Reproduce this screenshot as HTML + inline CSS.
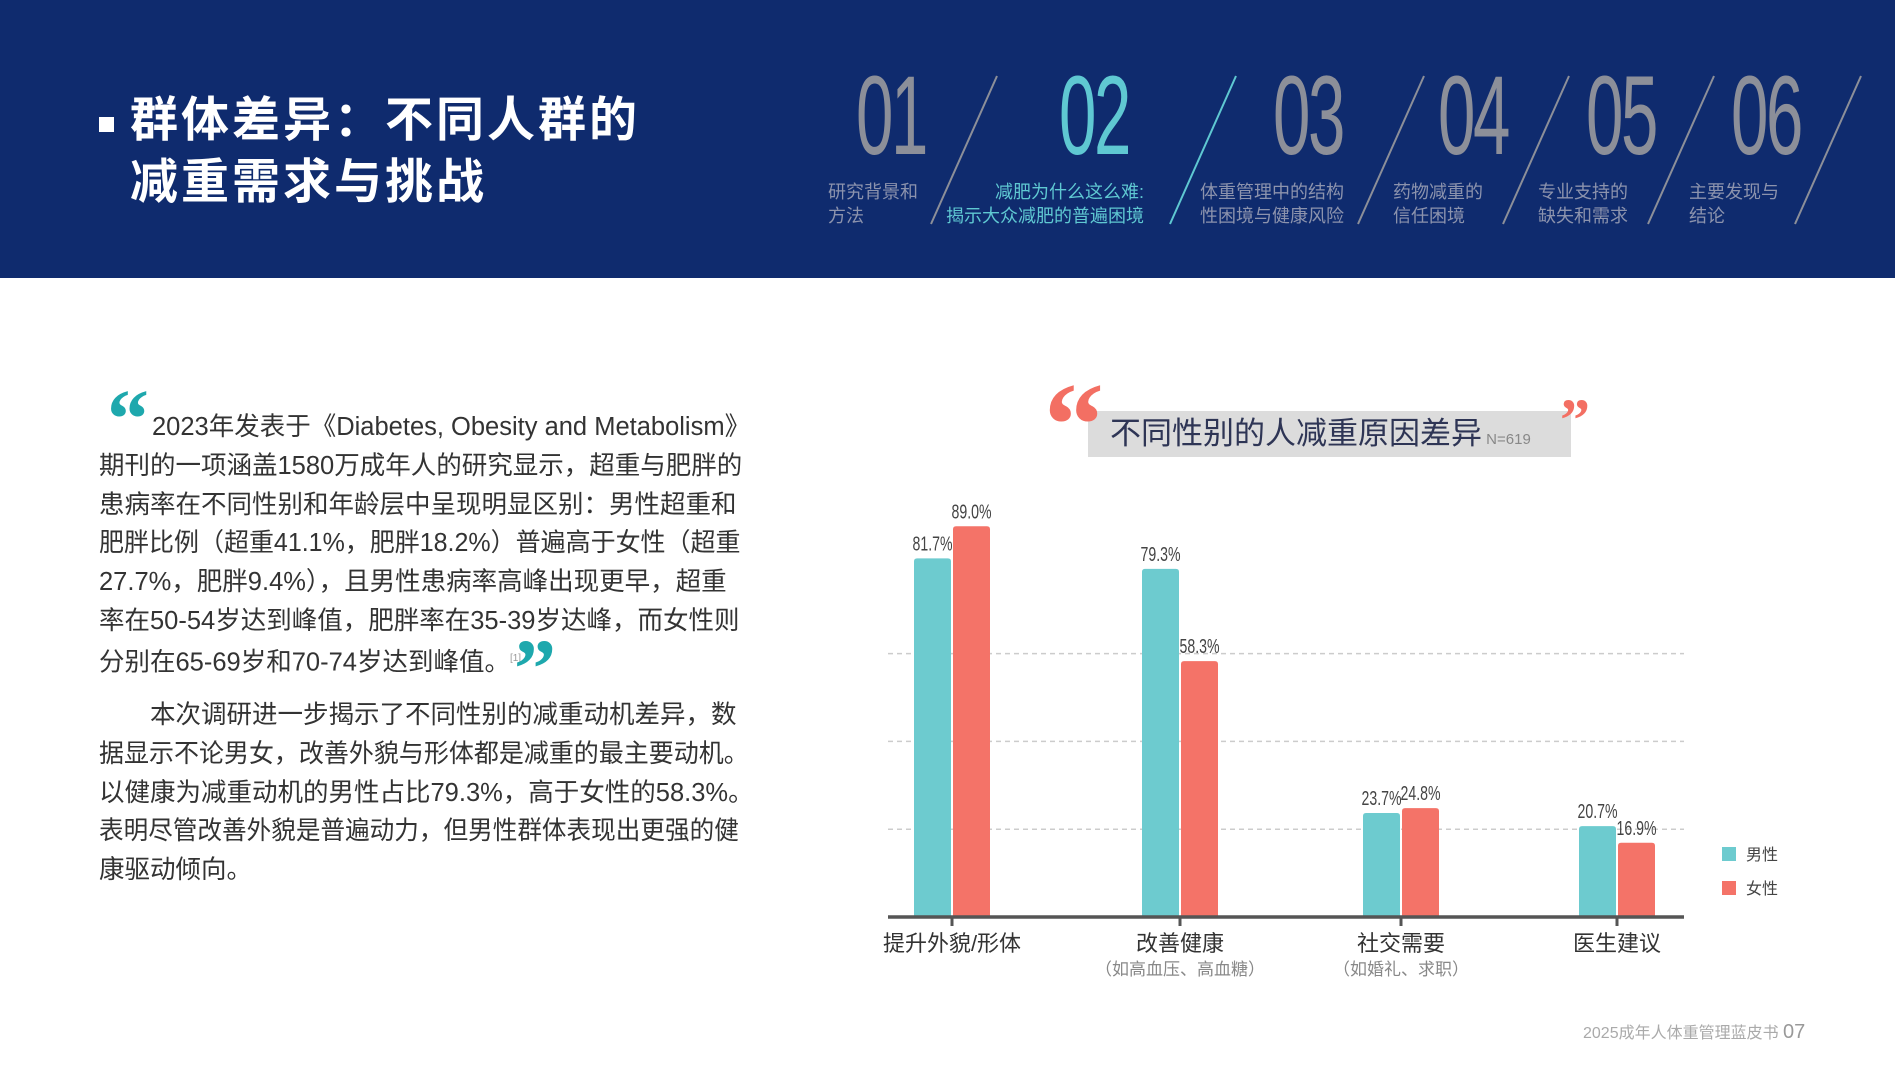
<!DOCTYPE html>
<html><head><meta charset="utf-8">
<style>
*{margin:0;padding:0;box-sizing:border-box}
body{width:1895px;height:1080px;background:#fff;position:relative;overflow:hidden;font-family:"Liberation Sans","Noto Sans CJK SC",sans-serif}
.abs{position:absolute;white-space:nowrap}
#hdr{left:0;top:0;width:1895px;height:278px;background:#0f2b6e}
.num{position:absolute;top:60px;font-size:112px;color:#8c8f99;font-family:"Liberation Sans",sans-serif;transform:scaleX(0.6);transform-origin:left top;line-height:1;letter-spacing:-4px}
.lab{position:absolute;font-size:18px;line-height:24px;color:#8c93ad;white-space:nowrap}
.p{position:absolute;left:99px;font-size:25.5px;color:#333;white-space:nowrap;line-height:38px;transform-origin:left top}
</style></head><body>
<div id="hdr" class="abs">
  <div class="abs" style="left:99px;top:117px;width:15px;height:15px;background:#fff"></div>
  <div class="abs" style="left:130px;top:90px;font-size:48px;letter-spacing:3px;line-height:62px;color:#fff;font-weight:bold">群体差异：不同人群的<br>减重需求与挑战</div>
  <svg class="abs" style="left:0;top:0" width="1895" height="278">
    <g stroke="#8c8f99" stroke-width="2">
      <line x1="997" y1="76" x2="931" y2="224"/>
      <line x1="1424" y1="76" x2="1358" y2="224"/>
      <line x1="1569" y1="76" x2="1503" y2="224"/>
      <line x1="1714" y1="76" x2="1648" y2="224"/>
      <line x1="1861" y1="76" x2="1795" y2="224"/>
    </g>
    <line x1="1236" y1="76" x2="1170" y2="224" stroke="#5fc8d2" stroke-width="2"/>
  </svg>
  <div class="num" style="left:856px">01</div>
  <div class="num" style="left:1059px;color:#5fc8d2">02</div>
  <div class="num" style="left:1273px">03</div>
  <div class="num" style="left:1438px">04</div>
  <div class="num" style="left:1586px">05</div>
  <div class="num" style="left:1731px">06</div>
  <div class="lab" style="left:828px;top:180px">研究背景和<br>方法</div>
  <div class="lab" style="left:946px;top:180px;color:#5fc8d2;text-align:right">减肥为什么这么难:<br>揭示大众减肥的普遍困境</div>
  <div class="lab" style="left:1200px;top:180px">体重管理中的结构<br>性困境与健康风险</div>
  <div class="lab" style="left:1393px;top:180px">药物减重的<br>信任困境</div>
  <div class="lab" style="left:1538px;top:180px">专业支持的<br>缺失和需求</div>
  <div class="lab" style="left:1689px;top:180px">主要发现与<br>结论</div>
</div>

<div class="abs" style="left:107px;top:380px;font-size:84px;line-height:80px;color:#1ea8ad;font-family:'Liberation Serif',serif;font-weight:bold">“</div>
<div class="p" style="top:408px;left:152px">2023年发表于《Diabetes, Obesity and Metabolism》</div>
<div class="p" style="top:447px">期刊的一项涵盖1580万成年人的研究显示，超重与肥胖的</div>
<div class="p" style="top:486px">患病率在不同性别和年龄层中呈现明显区别：男性超重和</div>
<div class="p" style="top:524px;transform:scaleX(0.98)">肥胖比例（超重41.1%，肥胖18.2%）普遍高于女性（超重</div>
<div class="p" style="top:563px">27.7%，肥胖9.4%），且男性患病率高峰出现更早，超重</div>
<div class="p" style="top:602px">率在50-54岁达到峰值，肥胖率在35-39岁达峰，而女性则</div>
<div class="p" style="top:640px">分别在65-69岁和70-74岁达到峰值。<sup style="font-size:10px;color:#999">[1]</sup></div>
<div class="abs" style="left:514px;top:630px;font-size:84px;line-height:80px;color:#1ea8ad;font-family:'Liberation Serif',serif;font-weight:bold">”</div>
<div class="p" style="top:696px;left:150px">本次调研进一步揭示了不同性别的减重动机差异，数</div>
<div class="p" style="top:735px;transform:scaleX(0.98)">据显示不论男女，改善外貌与形体都是减重的最主要动机。</div>
<div class="p" style="top:774px">以健康为减重动机的男性占比79.3%，高于女性的58.3%。</div>
<div class="p" style="top:812px;transform:scaleX(0.965)">表明尽管改善外貌是普遍动力，但男性群体表现出更强的健</div>
<div class="p" style="top:851px">康驱动倾向。</div>

<div class="abs" style="left:1088px;top:411px;width:483px;height:46px;background:#dcdcdc"></div>
<div class="abs" style="left:1110px;top:413px;font-size:31px;line-height:42px;color:#2e3555">不同性别的人减重原因差异<span style="font-size:15px;color:#888"> N=619</span></div>
<div class="abs" style="left:1044px;top:365px;font-size:120px;line-height:120px;color:#f36f63;font-family:'Liberation Serif',serif;font-weight:bold">“</div>
<div class="abs" style="left:1560px;top:390px;font-size:60px;line-height:60px;color:#f36f63;font-family:'Liberation Serif',serif;font-weight:bold">”</div>

<svg id="chart" class="abs" style="left:0;top:0" width="1895" height="1080"></svg>

<div class="abs" style="left:1583px;top:1019px;font-size:16px;color:#aaa">2025成年人体重管理蓝皮书 <span style="font-size:20px;color:#999">07</span></div>

<script>
const categories=["提升外貌/形体","改善健康","社交需要","医生建议"];
const subLabels=["","（如高血压、高血糖）","（如婚礼、求职）",""];
const maleValues=[81.7,79.3,23.7,20.7];
const femaleValues=[89.0,58.3,24.8,16.9];
const gridTicks=[20,40,60];
const seriesNames=["男性","女性"];
const NS="http://www.w3.org/2000/svg";
const svg=document.getElementById("chart");
const base=917, perPct=4.39, x0=888, x1=1684;
const centers=[952,1180,1401,1617];
function y(v){return base-v*perPct;}
function xc(i){return centers[i];}
function mk(t,a){const e=document.createElementNS(NS,t);for(const k in a)e.setAttribute(k,a[k]);svg.appendChild(e);return e;}
gridTicks.forEach(v=>{
  const l=mk("line",{x1:x0,x2:x1,y1:y(v),y2:y(v),stroke:"#ccc","stroke-width":1.5,"stroke-dasharray":"5,4"});
  
  
});
const bw=37;
function bar(i,v,color,dx,name){
  const top=y(v);
  const r=mk("path",{d:`M${xc(i)+dx},${base} V${top+3} Q${xc(i)+dx},${top} ${xc(i)+dx+3},${top} H${xc(i)+dx+bw-3} Q${xc(i)+dx+bw},${top} ${xc(i)+dx+bw},${top+3} V${base} Z`,fill:color});
  
  
  const t=mk("text",{x:xc(i)+dx+bw/2,y:top-8,"text-anchor":"middle","font-size":20,fill:"#444",textLength:40,lengthAdjust:"spacingAndGlyphs"});
  t.textContent=v.toFixed(1)+"%";
  
  
}
categories.forEach((c,i)=>{
  bar(i,maleValues[i],"#6dcbcf",-38,"bar-male");
  bar(i,femaleValues[i],"#f47368",1,"bar-female");
  const tk=mk("line",{x1:xc(i),x2:xc(i),y1:base,y2:base+9,stroke:"#555","stroke-width":3});
  
  
  const t=mk("text",{x:xc(i),y:951,"text-anchor":"middle","font-size":22,fill:"#333"});
  t.textContent=c;
  
  
  if(subLabels[i]){
    const s=mk("text",{x:xc(i),y:975,"text-anchor":"middle","font-size":17,fill:"#888"});
    s.textContent=subLabels[i];
    
    
  }
});
const ax=mk("line",{x1:x0,x2:x1,y1:base,y2:base,stroke:"#555","stroke-width":3.5});


const lc=["#6dcbcf","#f47368"];
seriesNames.forEach((n,k)=>{
  const yy=847+k*34;
  const r=mk("rect",{x:1722,y:yy,width:14,height:14,fill:lc[k]});
  
  
  const t=mk("text",{x:1746,y:yy+13,"font-size":16,fill:"#444"});
  t.textContent=n;
  
  
});
</script>
</body></html>
